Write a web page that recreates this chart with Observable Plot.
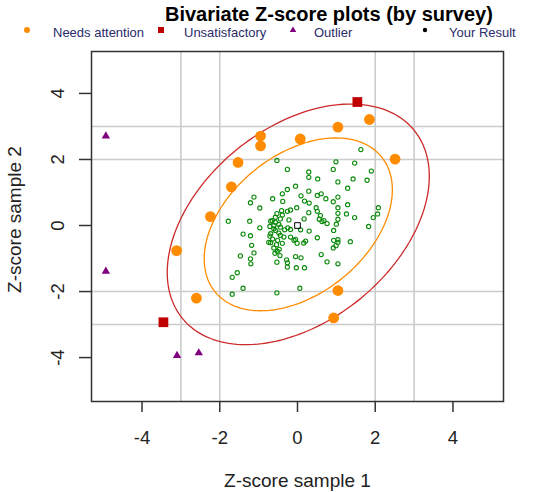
<!DOCTYPE html>
<html>
<head>
<meta charset="utf-8">
<script src="https://cdn.jsdelivr.net/npm/d3@7"></script>
<script src="https://cdn.jsdelivr.net/npm/@observablehq/plot@0.6"></script>
<style>
  body { margin: 0; background: #fff; font-family: "Liberation Sans", Arial, sans-serif; }
  #wrap { position: relative; width: 550px; height: 492px; overflow: hidden; }
  #title { position: absolute; left: 165px; top: 3px; font-size: 20px; font-weight: bold; color: #000; white-space: nowrap; }
  .lg { position: absolute; top: 24px; font-size: 13px; color: #2b2b6b; white-space: nowrap; line-height: 18px; }
  .sym { position: absolute; top: 24px; width: 18px; height: 18px; }
</style>
</head>
<body>
<div id="wrap">
  <div id="chart"></div>
  <div id="title">Bivariate Z-score plots (by survey)</div>
  <div id="legend"></div>
</div>
<script>
// ---- data (z-scores) ----
const xTicks = [-4, -2, 0, 2, 4];
const yTicks = [-4, -2, 0, 2, 4];
const gridLines = [-3, -2, 2, 3];

const legendLabels = ["Needs attention", "Unsatisfactory", "Outlier", "Your Result"];

// acceptable results (green open circles)
const okX = [1.63,-0.53,0.99,1.47,-0.26,0.29,0.92,1.90,0.29,0.52,1.43,1.79,1.04,-0.05,1.29,-0.26,0.29,-0.39,0.51,0.61,
  0.09,-1.12,-0.64,-0.38,0.18,0.73,1.04,0.92,-1.21,0.30,1.29,-0.97,-0.02,0.48,1.04,-0.41,-0.26,0.51,0.29,1.04,
  1.26,2.08,2.06,1.95,1.47,-0.53,-0.69,-0.22,0.17,-1.78,-1.23,0.56,0.63,0.76,1.04,1.00,1.83,-0.97,-0.61,-0.44,
  -0.57,-0.18,0.08,0.30,0.93,-1.40,-1.21,-0.71,-0.44,-0.05,0.21,0.51,1.04,1.36,0.99,0.92,-1.18,-0.69,-0.54,-0.01,
  0.16,-0.52,-1.12,-1.47,-1.21,-0.45,-0.05,0.09,0.61,0.76,1.04,-1.20,-0.53,-0.26,-0.03,0.18,-0.26,-1.55,-1.68,-1.40,
  -1.68,-0.53,0.06,-0.65,-0.57,-0.48,-0.61,-0.48,-0.69,-0.64,-0.51,-0.39,-0.61,-0.47,-0.74,-0.33,-0.25,-0.39,-0.18,
  -0.57,-0.44,-0.71,-0.35,-0.58,-0.28,0.59,0.68,0.93,1.04,-0.09,-0.18];
const okY = [2.30,1.97,1.93,1.89,1.70,1.62,1.70,1.65,1.46,1.41,1.41,1.37,1.32,1.19,1.13,1.09,1.04,0.96,0.91,0.96,
  0.90,0.86,0.81,0.73,0.74,0.81,0.86,0.72,0.69,0.68,0.63,0.53,0.54,0.54,0.54,0.45,0.43,0.43,0.39,0.37,
  0.35,0.54,0.35,0.24,0.24,0.36,0.13,0.17,0.20,0.13,0.13,0.19,0.12,0.06,0.19,0.04,-0.03,-0.07,0.00,-0.05,
  -0.15,-0.12,-0.13,-0.17,-0.15,-0.26,-0.31,-0.32,-0.30,-0.42,-0.47,-0.37,-0.43,-0.49,-0.61,-0.68,-0.60,-0.52,-0.58,-0.54,
  -0.53,-0.78,-0.83,-0.92,-1.01,-0.91,-0.94,-0.98,-0.88,-1.10,-1.16,-1.16,-1.11,-1.13,-1.28,-1.28,-1.26,-1.43,-1.57,-1.90,
  -2.08,-2.04,-1.90,0.15,0.10,0.03,-0.10,-0.23,-0.25,-0.41,-0.45,-0.54,-0.68,-0.72,-0.51,-0.13,-0.07,0.32,0.47,
  0.25,0.20,-0.03,-0.35,-0.84,-1.04,0.30,0.15,-0.45,-0.51,-0.45,-0.35];

// needs attention (orange)
const needsX = [1.85, 1.04, 0.07, -0.95, -0.95, -1.53, 2.51, -1.70, -2.24, -3.11, -2.60, 1.04, 0.93];
const needsY = [3.21, 2.98, 2.62, 2.71, 2.41, 1.91, 2.01, 1.17, 0.27, -0.76, -2.20, -1.97, -2.80];

// unsatisfactory (red squares)
const unsatX = [1.54, -3.45];
const unsatY = [3.74, -2.93];

// outliers (purple triangles)
const outX = [-4.93, -4.93, -3.10, -2.54];
const outY = [2.71, -1.39, -3.94, -3.86];

// your result
const yourX = [0.0];
const yourY = [0.0];

// confidence ellipses: chi-square (2 df) levels, centre, spreads, correlation
const ellipseChi2 = [5.99, 11.62];
const ellipseCentre = [0.02, 0.035];
const ellipseSd = [0.989, 1.069];
const ellipseRho = 0.4;

// ---- build tables ----
const pts = (xs, ys) => xs.map((x, i) => ({x, y: ys[i]}));
const ok = pts(okX, okY), needs = pts(needsX, needsY), unsat = pts(unsatX, unsatY),
      outl = pts(outX, outY), yours = pts(yourX, yourY);

const ellipse = (c2, level) => d3.range(0, 361, 2).map(deg => {
  const t = deg * Math.PI / 180, r = Math.sqrt(c2);
  const u = r * Math.cos(t), v = r * Math.sin(t);
  return {
    level,
    x: ellipseCentre[0] + ellipseSd[0] * u,
    y: ellipseCentre[1] + ellipseSd[1] * (ellipseRho * u + Math.sqrt(1 - ellipseRho ** 2) * v)
  };
});
const ell95 = ellipse(ellipseChi2[0], 0), ell997 = ellipse(ellipseChi2[1], 1);

const ORANGE = "#ff8c00", RED = "#c00000", ERED = "#cc2a2a", PURPLE = "#800080", GREEN = "#0a8a0a";
const fmt = d => String(d);

const plot = Plot.plot({
  width: 550,
  height: 492,
  marginLeft: 91,
  marginRight: 47,
  marginTop: 51,
  marginBottom: 91,
  style: { fontFamily: "'Liberation Sans', Arial, sans-serif", color: "#222", background: "#fff" },
  x: { domain: [-5.3, 5.3] },
  y: { domain: [-5.33, 5.27] },
  marks: [
    Plot.ruleX(gridLines, { stroke: "#cccccc", strokeWidth: 1.6 }),
    Plot.ruleY(gridLines, { stroke: "#cccccc", strokeWidth: 1.6 }),
    Plot.line(ell997, { x: "x", y: "y", stroke: ERED, strokeWidth: 1.3, curve: "linear-closed" }),
    Plot.line(ell95, { x: "x", y: "y", stroke: ORANGE, strokeWidth: 1.3, curve: "linear-closed" }),
    Plot.dot(ok, { x: "x", y: "y", r: 2.1, stroke: GREEN, strokeWidth: 1.1, fill: "none" }),
    Plot.dot(needs, { x: "x", y: "y", r: 5.4, fill: ORANGE, stroke: "none" }),
    Plot.dot(unsat, { x: "x", y: "y", r: 5.5, symbol: "square", fill: RED, stroke: "none" }),
    Plot.dot(outl, { x: "x", y: "y", r: 3.1, symbol: "triangle", fill: PURPLE, stroke: "none" }),
    Plot.dot(yours, { x: "x", y: "y", r: 3.2, symbol: "square", fill: "none", stroke: "#000", strokeWidth: 1 }),
    Plot.frame({ stroke: "#333", strokeWidth: 1.5 }),
    Plot.axisX({ ticks: xTicks, tickFormat: fmt, tickSize: 11, tickPadding: 18, fontSize: 18.5, label: null, stroke: "#333", strokeWidth: 1.5 }),
    Plot.axisY({ ticks: yTicks, tickFormat: fmt, tickSize: 12, tickRotate: -90, tickPadding: 16, fontSize: 18.5, label: null, stroke: "#333", strokeWidth: 1.5 }),
    Plot.text(["Z-score sample 1"], { frameAnchor: "bottom", textAnchor: "middle", lineAnchor: "middle", dy: 79, fontSize: 19, fill: "#222" }),
    Plot.text(["Z-score sample 2"], { frameAnchor: "left", textAnchor: "middle", lineAnchor: "middle", dx: -77, dy: -7, rotate: -90, fontSize: 19, fill: "#222" })
  ]
});
document.getElementById("chart").appendChild(plot);

// ---- legend ----
const legendSymbols = [
  `<svg class="sym" viewBox="0 0 18 18"><circle cx="9" cy="9" r="3" fill="${ORANGE}"/></svg>`,
  `<svg class="sym" viewBox="0 0 18 18"><rect x="6" y="6" width="6" height="6" fill="${RED}"/></svg>`,
  `<svg class="sym" viewBox="0 0 18 18"><path d="M9,5.5 L12.3,11 L5.7,11 Z" fill="${PURPLE}"/></svg>`,
  `<svg class="sym" viewBox="0 0 18 18"><circle cx="9" cy="9" r="2.2" fill="#000"/></svg>`
];
const symLeft = [18, 152, 284, 416];
const textLeft = [53, 184, 314, 449];
const lg = document.getElementById("legend");
legendLabels.forEach((lab, i) => {
  const s = document.createElement("div");
  s.innerHTML = legendSymbols[i];
  s.firstChild.style.left = symLeft[i] + "px";
  s.firstChild.style.top = "21px";
  lg.appendChild(s.firstChild);
  const t = document.createElement("div");
  t.className = "lg";
  t.style.left = textLeft[i] + "px";
  t.textContent = lab;
  lg.appendChild(t);
});
</script>
</body>
</html>
